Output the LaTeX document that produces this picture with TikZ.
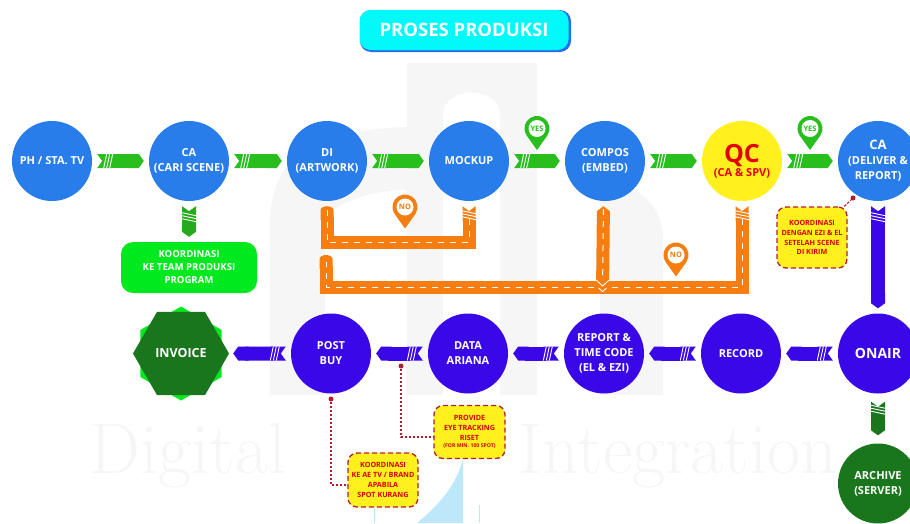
\documentclass[tikz,border=0pt]{standalone}
\usepackage{fontspec}
\setmainfont{Open Sans}
\usepackage{xcolor}
\usetikzlibrary{arrows.meta,shapes.geometric,decorations.markings}
\definecolor{flowblue}{RGB}{40,125,235}
\definecolor{flowindigo}{RGB}{58,8,232}
\definecolor{flowgreen}{RGB}{40,190,30}
\definecolor{darkgreen}{RGB}{26,118,28}
\definecolor{lime}{RGB}{0,232,30}
\definecolor{roadorange}{RGB}{246,126,16}
\definecolor{noteyellow}{RGB}{255,240,30}
\definecolor{notered}{RGB}{176,30,50}
\definecolor{faintgrey}{RGB}{246,246,247}
\definecolor{skyblue}{RGB}{188,232,250}
\definecolor{titlecyan}{RGB}{0,250,250}
\definecolor{titleblue}{RGB}{40,110,240}
\tikzset{
    pics/flag/.style 2 args={code={
        \fill[#1] (0,21.5) -- (34:12.5) arc[start angle=34, end angle=-214, radius=12.5] -- cycle;
        \fill[white] (0,0) circle (8.5);
        \node[font=\bfseries\fontsize{7.5}{8}\selectfont, text=#1, inner sep=0pt] (-text) at (0,0) {#2};
    }},
    slash/.style={draw=white, line width=0.9pt, -, shorten <=0pt, shorten >=0pt}
}
\begin{document}
\begin{tikzpicture}[x=1pt,y=-1pt,node distance={137pt},
    main/.style={circle, minimum size=80pt, inner sep=0pt, align=center, text=white, font=\bfseries\fontsize{11}{15}\selectfont},
    upper/.style={main, fill=flowblue},
    lower/.style={main, fill=flowindigo},
    note/.style={draw=notered, fill=noteyellow, dash pattern=on 5pt off 3pt, line width=1.3pt, rounded corners=9pt, align=center, inner sep=0pt, text=red!85!black, font=\bfseries\fontsize{7.2}{9.8}\selectfont},
    notelink/.style={draw=notered, line width=1.1pt, dash pattern=on 2.5pt off 1.5pt},
    notedot/.style={circle, fill=notered, minimum size=5pt, inner sep=0pt},
    stripes/.style={postaction={decorate, decoration={markings, mark=at position #1 with {
        \draw[slash] (-2.5pt,-7pt) -- (0.5pt,7pt);
        \draw[slash] (0.5pt,-7pt) -- (3.5pt,7pt);
        \draw[slash] (3.5pt,-7pt) -- (6.5pt,7pt);
    }}}},
    chevrons/.style={postaction={decorate, decoration={markings, mark=at position #1 with {
        \draw[slash] (6pt,-6.5pt) -- (0pt,0pt) -- (6pt,6.5pt);
        \draw[slash] (-2pt,-4pt) -- (-5.5pt,0pt) -- (-2pt,4pt);
    }}}},
    flow/.style={line width=14pt, {Triangle Cap[reversed,length=5pt]}-{Triangle Cap[length=5pt]}, shorten <=5pt, shorten >=5pt, stripes=14pt},
    road/.style={draw=roadorange, line width=13pt, line join=miter, {Triangle Cap[reversed,length=5pt]}-{Round Cap[length=4pt]}, shorten <=5pt, shorten >=5pt,
        postaction={draw=white, line width=1pt, -, dash pattern=on 6pt off 6pt, shorten <=18pt, shorten >=7pt}},
]
    \useasboundingbox (0,0) rectangle (910,523);

    \fill[faintgrey] (407,63) -- (537,63) -- (537,395) -- (500,395) -- (500,115) .. controls (500,85) and (443,85) .. (443,115) -- (443,395) -- (407,395) -- cycle;
    \fill[faintgrey] (407,127) .. controls (320,130) and (270,150) .. (270,225) -- (270,395) -- (325,395) -- (325,225) .. controls (325,205) and (370,190) .. (407,190) -- cycle;
    \fill[faintgrey] (600,180) .. controls (640,185) and (663,205) .. (663,240) -- (663,395) -- (600,395) -- cycle;
    \node[font=\fontfamily{lmr}\fontsize{72}{72}\selectfont, text=faintgrey] (wmleft) at (188,456) {Digital};
    \node[font=\fontfamily{lmr}\fontsize{72}{72}\selectfont, text=faintgrey] (wmright) at (678,456) {Integration};
    \fill[skyblue] (463,458) -- (463,523) -- (417,523) .. controls (445,500) and (458,480) .. (463,458);
    \draw[skyblue, line width=0.7pt] (374,505) -- (374,523);
    \draw[skyblue, line width=0.7pt] (479,505) -- (479,523);

    \node[fill=titleblue, rounded corners=11pt, minimum width=211pt, minimum height=42pt] (titleback) at (465.5,31) {};
    \node[fill=titlecyan, rounded corners=11pt, minimum width=209pt, minimum height=40pt, text=white, font=\bfseries\fontsize{18.5}{20}\selectfont] (title) at (464,30) {PROSES PRODUKSI};

    \node[upper] (ph) at (52,161) {PH / STA. TV};
    \node[upper] (cascene) [right of=ph] {CA\\(CARI SCENE)};
    \node[upper] (di) [right of=cascene, xshift=1pt] {DI\\(ARTWORK)};
    \node[upper] (mockup) [right of=di, xshift=5pt] {MOCKUP};
    \node[upper] (compos) [right of=mockup, xshift=-1pt] {COMPOS\\(EMBED)};
    \node[main, fill=noteyellow, text=red!90!black] (qc) [right of=compos] {{\fontsize{25}{25}\selectfont QC}\\[-1pt]{\fontsize{11}{12}\selectfont (CA \& SPV)}};
    \node[upper] (cadeliver) [right of=qc, xshift=-1pt] {{\fontsize{13}{15}\selectfont CA}\\(DELIVER \&\\REPORT)};

    \node[fill=lime, rounded corners=12pt, minimum width=136pt, minimum height=51pt, align=center, text=white, font=\bfseries\fontsize{9.6}{13}\selectfont] (team) at (189,267.5) {KOORDINASI\\KE TEAM PRODUKSI\\PROGRAM};

    \node[lower, font=\bfseries\fontsize{14}{16}\selectfont] (onair) [below of=cadeliver, yshift=-55.5pt] {ONAIR};
    \node[lower] (record) [left of=onair] {RECORD};
    \node[lower] (report) [left of=record] {REPORT \&\\TIME CODE\\(EL \& EZI)};
    \node[lower] (data) [left of=report, xshift=1pt] {DATA\\ARIANA};
    \node[lower] (post) [left of=data] {POST\\BUY};
    \node[regular polygon, regular polygon sides=6, regular polygon rotate=30, fill=lime, minimum size=94pt, inner sep=0pt] (invoiceback) [left of=post, xshift=-13pt] {};
    \node[regular polygon, regular polygon sides=6, fill=darkgreen, minimum size=96pt, inner sep=0pt, text=white, font=\bfseries\fontsize{12.5}{15}\selectfont] (invoice) at (invoiceback) {INVOICE};
    \node[main, fill=darkgreen] (archive) [below of=onair, yshift=7pt] {ARCHIVE\\(SERVER)};

    \node[note, minimum width=70pt, minimum height=61pt] (notedeliver) at (812,237.5) {KOORDINASI\\DENGAN EZI \& EL\\SETELAH SCENE\\DI KIRIM};
    \node[note, minimum width=71pt, minimum height=53pt] (noteeye) at (469.5,432) {PROVIDE\\EYE TRACKING\\RISET\\[-2pt]{\fontsize{5.2}{6}\selectfont (FOR MIN. 100 SPOT)}};
    \node[note, minimum width=70pt, minimum height=54pt] (notespot) at (383,480) {KOORDINASI\\KE AE TV / BRAND\\APABILA\\SPOT KURANG};
    \node[notedot] (dotdeliver) at (853,198) {};
    \node[notedot] (doteye) at (401,366) {};
    \node[notedot] (dotspot) at (331,399) {};

    \coordinate (bendmock) at (400,242.5);
    \coordinate (bendqc) at (600,287);
    \coordinate (diend) at (326,255);
    \coordinate (composfoot) at (602.5,293);

    \draw[flow, flowgreen] (ph) -- (cascene);
    \draw[flow, flowgreen] (cascene) -- (di);
    \draw[flow, flowgreen] (di) -- (mockup);
    \draw[flow, flowgreen] (mockup) -- (compos);
    \draw[flow, flowgreen] (compos) -- (qc);
    \draw[flow, flowgreen] (qc) -- (cadeliver);
    \draw[flow, flowgreen!90!black] (cascene) -- (team);
    \draw[flow, flowindigo] (cadeliver) -- (onair);
    \draw[flow, flowindigo] (onair) -- (record);
    \draw[flow, flowindigo] (record) -- (report);
    \draw[flow, flowindigo] (report) -- (data);
    \draw[flow, flowindigo] (data) -- (post);
    \draw[flow, flowindigo, shorten >=4pt] (post) -- (invoice);
    \draw[flow, darkgreen, shorten >=8pt, shorten <=8pt] (onair) -- (archive);

    \draw[road, stripes=12pt] (mockup) |- (bendmock) -| (di);
    \draw[road, stripes=12pt, shorten >=0pt] (qc) |- (bendqc) -| (diend);
    \draw[road, -{Triangle Cap[length=5pt]}, shorten <=0pt, chevrons=7pt] (composfoot) -- ([xshift=-1.5pt]compos.south);

    \draw[notelink] (notedeliver) -- (dotdeliver);
    \draw[notelink] (doteye) |- ([yshift=-5pt]noteeye.west);
    \draw[notelink] (dotspot) |- ([yshift=-5pt]notespot.west);

    \pic at (537,128.5) {flag={flowgreen}{YES}};
    \pic at (810,128.5) {flag={flowgreen}{YES}};
    \pic at (405,207) {flag={roadorange}{NO}};
    \pic at (676,255) {flag={roadorange}{NO}};
\end{tikzpicture}
\end{document}
